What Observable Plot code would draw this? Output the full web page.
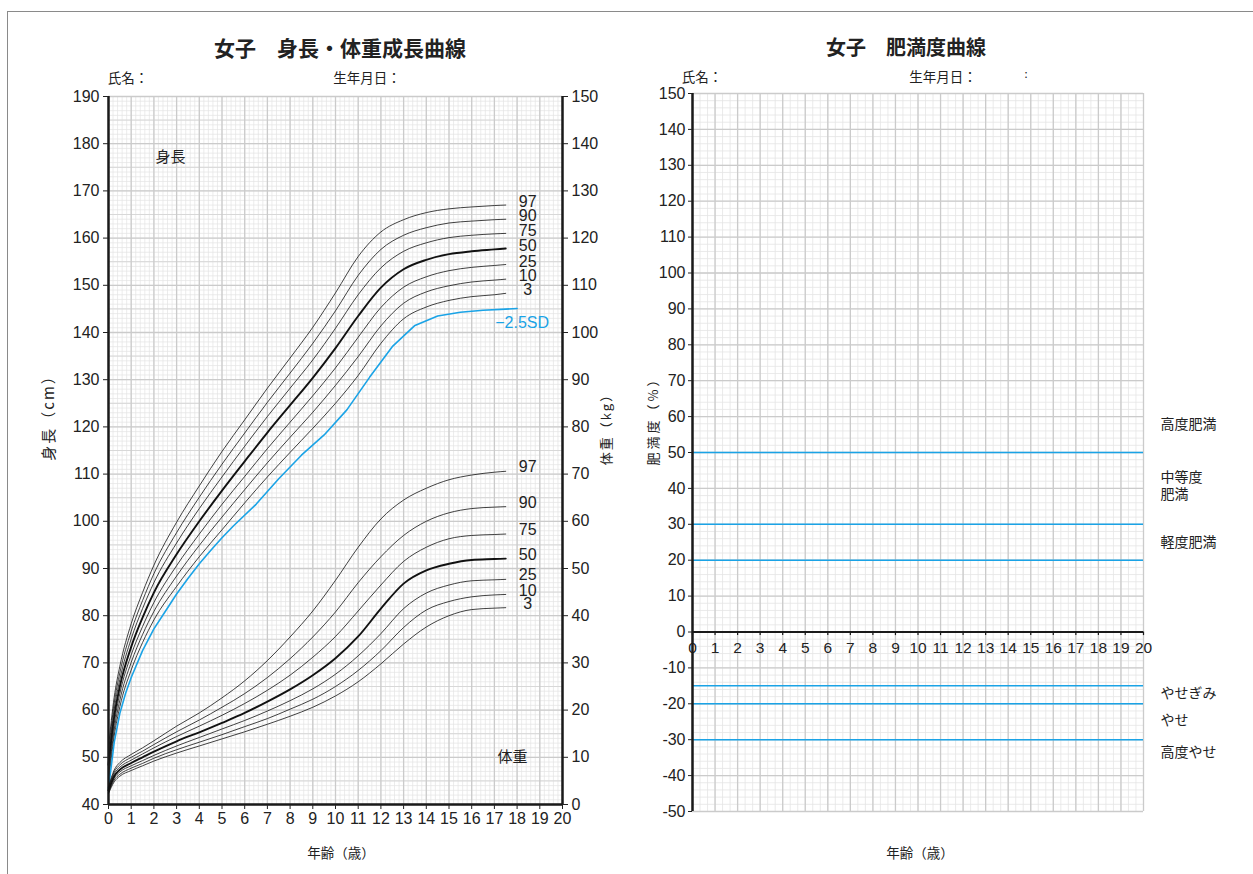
<!DOCTYPE html>
<html><head><meta charset="utf-8">
<script src="https://cdn.jsdelivr.net/npm/d3@7"></script>
<script src="https://cdn.jsdelivr.net/npm/@observablehq/plot@0.6"></script>
<style>
body{margin:0;background:#fff;}
#page{position:relative;width:1253px;height:874px;overflow:hidden;background:#fff;font-family:"Noto Sans CJK JP",sans-serif;color:#222}
#page svg{position:absolute;top:0;}
.t{position:absolute;white-space:nowrap;line-height:1;transform:translate(-50%,-50%);}
.frame{position:absolute;left:7px;top:11px;width:1400px;height:1000px;border-left:1px solid #8a8a8a;border-top:1.5px solid #8a8a8a;background:transparent;z-index:5;pointer-events:none;}
</style></head><body><div id="page"></div>
<script>
// ---------- data ----------
const ages = [0,0.25,0.5,1,1.5,2,3,4,5,6,7,8,9,10,11,12,13,14,15,16,17,17.5];
const percentiles = ["97","90","75","50","25","10","3"];

const height97 = [52.2,62.7,69.3,78.3,84.9,90.7,99.8,107.5,114.8,121.5,128.2,134.6,141.1,148.4,156.1,161.3,163.9,165.4,166.2,166.6,166.9,167.0];
const height90 = [51.0,61.4,67.9,76.7,83.2,88.9,97.6,105.1,112.1,118.7,125.2,131.4,137.7,144.6,152.1,157.6,160.6,162.2,163.2,163.6,163.9,164.0];
const height75 = [49.7,60.1,66.5,75.1,81.5,87.0,95.4,102.7,109.4,115.9,122.2,128.2,134.2,140.9,148.0,153.7,157.2,159.0,160.1,160.6,160.9,161.0];
const height50 = [48.4,58.6,65.0,73.4,79.6,84.9,93.0,100.0,106.5,112.7,118.8,124.6,130.4,136.7,143.5,149.5,153.4,155.4,156.6,157.2,157.6,157.8];
const height25 = [47.1,57.1,63.5,71.7,77.7,82.8,90.6,97.3,103.6,109.5,115.4,121.0,126.6,132.5,139.0,145.3,149.6,151.8,153.1,153.8,154.2,154.4];
const height10 = [45.8,55.8,62.1,70.1,76.0,80.9,88.4,94.9,100.9,106.7,112.4,117.8,123.1,128.8,134.9,141.4,146.2,148.6,149.9,150.7,151.1,151.3];
const height3  = [44.6,54.5,60.7,68.5,74.3,79.1,86.2,92.5,98.2,103.9,109.4,114.6,119.7,125.0,130.9,137.7,142.9,145.4,146.8,147.6,148.0,148.3];

const sdAges   = [0,0.25,0.5,0.75,1,1.5,2,2.5,3,3.5,4,4.5,5,5.5,6.5,7.5,8.5,9.5,10.5,11.5,12.5,13.5,14.5,15.5,16.5,17.5,18];
const heightMinus25SD = [43.4,53.1,59.3,63.5,66.9,72.6,77.2,80.9,84.6,87.9,91.0,93.8,96.5,99.0,103.6,109.0,114.0,118.3,123.6,130.5,137.0,141.5,143.5,144.3,144.7,144.95,145.1];

const weight97 = [3.7,7.3,8.9,10.6,12.0,13.5,16.6,19.4,22.6,26.2,30.5,35.5,41.0,47.5,54.5,60.5,64.5,67.0,68.8,69.8,70.4,70.6];
const weight90 = [3.5,6.9,8.4,10.0,11.3,12.7,15.4,17.9,20.6,23.5,26.9,30.9,35.5,40.8,47.0,52.5,57.0,60.0,61.8,62.7,63.0,63.1];
const weight75 = [3.2,6.5,7.9,9.4,10.7,12.0,14.4,16.6,18.9,21.4,24.2,27.4,31.2,35.6,41.0,46.5,51.5,54.5,56.3,57.0,57.2,57.3];
const weight50 = [3.0,6.0,7.4,8.8,10.0,11.2,13.4,15.3,17.3,19.4,21.8,24.4,27.4,31.0,35.6,41.5,46.8,49.6,51.0,51.8,52.0,52.1];
const weight25 = [2.7,5.6,6.9,8.2,9.3,10.4,12.4,14.2,16.0,17.8,19.8,22.0,24.5,27.6,31.5,36.2,41.5,44.8,46.5,47.4,47.6,47.7];
const weight10 = [2.5,5.2,6.4,7.7,8.7,9.8,11.6,13.2,14.8,16.5,18.2,20.2,22.3,25.0,28.4,32.6,37.5,41.2,43.0,44.0,44.4,44.5];
const weight3  = [2.3,4.8,6.0,7.2,8.2,9.2,10.9,12.4,13.9,15.4,17.0,18.7,20.6,23.0,26.0,29.8,34.0,37.6,40.0,41.3,41.6,41.7];

const heightTicks = d3.range(40, 191, 10);
const weightTicks = d3.range(0, 151, 10);
const ageTicks = d3.range(0, 21, 1);
const obesityTicks = d3.range(-50, 151, 10);
const obesityLines = [50, 30, 20, -15, -20, -30];
const obesityLabels = ["高度肥満", "中等度\n肥満", "軽度肥満", "やせぎみ", "やせ", "高度やせ"];
const obesityLabelY = [58, 41, 25.3, -17, -24.5, -33.4];

// ---------- tables ----------
const heightSeries = {"97":height97,"90":height90,"75":height75,"50":height50,"25":height25,"10":height10,"3":height3};
const weightSeries = {"97":weight97,"90":weight90,"75":weight75,"50":weight50,"25":weight25,"10":weight10,"3":weight3};
const toRows = s => percentiles.flatMap(p => ages.map((a, i) => ({age: a, value: s[p][i], p})));
const heightRows = toRows(heightSeries);
const weightRows = toRows(weightSeries);
const lastAge = ages[ages.length - 1];
const sdRows = sdAges.map((a, i) => ({age: a, value: heightMinus25SD[i]}));
const obesityLabelRows = obesityLabels.map((t, i) => ({t, y: obesityLabelY[i]}));

const numFont = "'Liberation Sans', Arial, Helvetica, sans-serif";
const jpFont = "'Noto Sans CJK JP', sans-serif";
const BLUE = "#1aa3e6";
const gMinor = "#e4e4e4", gMid = "#d8d8d8", gMajor = "#cbcbcb";

// ---------- left chart: height ----------
const leftDims = {width: 620, height: 874, marginLeft: 108, marginRight: 58, marginTop: 96, marginBottom: 70};
const heightPlot = Plot.plot({
  ...leftDims,
  x: {domain: [0, 20], ticks: ageTicks, tickSize: 5, tickPadding: 3, label: null},
  y: {domain: [40, 190], ticks: heightTicks, tickSize: 5, tickPadding: 4, label: null},
  style: {fontSize: "16px", fontFamily: numFont, color: "#222", background: "white", overflow: "visible"},
  marks: [
    Plot.ruleX(d3.range(0, 20.001, 0.2), {stroke: gMinor, strokeWidth: 0.7}),
    Plot.ruleY(d3.range(40, 190.001, 1), {stroke: gMinor, strokeWidth: 0.7}),
    Plot.ruleY(d3.range(45, 190, 10), {stroke: gMid, strokeWidth: 1}),
    Plot.ruleX(ageTicks, {stroke: gMajor, strokeWidth: 1.3}),
    Plot.ruleY(heightTicks, {stroke: gMajor, strokeWidth: 1.3}),
    Plot.line(heightRows.filter(d => d.p !== "50"), {x: "age", y: "value", z: "p", stroke: "#111", strokeWidth: 0.8, curve: "monotone-x"}),
    Plot.line(heightRows.filter(d => d.p === "50"), {x: "age", y: "value", stroke: "#111", strokeWidth: 1.9, curve: "monotone-x"}),
    Plot.line(sdRows, {x: "age", y: "value", stroke: BLUE, strokeWidth: 1.6}),
    Plot.text(heightRows.filter(d => d.age === lastAge), {x: "age", y: "value", text: "p", dx: 22, dy: -3, textAnchor: "middle", fontSize: 16, fill: "#222"}),
    Plot.text(sdRows.slice(-1), {x: "age", y: "value", text: () => "−2.5SD", dx: 5, dy: 14, textAnchor: "middle", fontSize: 16, fill: BLUE}),
    Plot.text(["身長"], {x: 2.73, y: 177.1, text: d => d, fontSize: 15, fontFamily: jpFont, fill: "#222"}),
    Plot.ruleY([40], {stroke: "#1a1a1a", strokeWidth: 2.5}),
    Plot.ruleX([0], {stroke: "#1a1a1a", strokeWidth: 2.5})
  ]
});
heightPlot.style.left = "0px";

// ---------- left chart: weight overlay ----------
const weightPlot = Plot.plot({
  ...leftDims,
  x: {domain: [0, 20], axis: null},
  y: {domain: [0, 150], axis: "right", ticks: weightTicks, tickSize: 5, tickPadding: 4, label: null},
  style: {fontSize: "16px", fontFamily: numFont, color: "#222", background: "transparent", overflow: "visible"},
  marks: [
    Plot.line(weightRows.filter(d => d.p !== "50"), {x: "age", y: "value", z: "p", stroke: "#111", strokeWidth: 0.8, curve: "monotone-x"}),
    Plot.line(weightRows.filter(d => d.p === "50"), {x: "age", y: "value", stroke: "#111", strokeWidth: 1.9, curve: "monotone-x"}),
    Plot.text(weightRows.filter(d => d.age === lastAge), {x: "age", y: "value", text: "p", dx: 22, dy: -4, textAnchor: "middle", fontSize: 16, fill: "#222"}),
    Plot.text(["体重"], {x: 17.8, y: 10, text: d => d, fontSize: 15, fontFamily: jpFont, fill: "#222"}),
    Plot.ruleX([20], {stroke: "#1a1a1a", strokeWidth: 2.5})
  ]
});
weightPlot.style.left = "0px";

// ---------- right chart: obesity ----------
const obesityPlot = Plot.plot({
  width: 633, height: 874, marginLeft: 72, marginRight: 110, marginTop: 93, marginBottom: 63,
  x: {domain: [0, 20], axis: null},
  y: {domain: [-50, 150], ticks: obesityTicks, tickSize: 4, tickPadding: 3, label: null, tickFormat: d => String(d)},
  style: {fontSize: "16px", fontFamily: numFont, color: "#222", background: "transparent", overflow: "visible"},
  marks: [
    Plot.ruleX(d3.range(0, 20.001, 1 / 3), {stroke: gMinor, strokeWidth: 0.8}),
    Plot.ruleY(d3.range(-50, 150.001, 2), {stroke: gMinor, strokeWidth: 0.8}),
    Plot.ruleX(ageTicks, {stroke: gMajor, strokeWidth: 1.3}),
    Plot.ruleY(obesityTicks, {stroke: gMajor, strokeWidth: 1.3}),
    Plot.ruleY(obesityLines, {x1: 0, x2: 20, stroke: BLUE, strokeWidth: 1.5}),
    Plot.ruleY([0], {x1: 0, x2: 20, stroke: "#1a1a1a", strokeWidth: 2}),
    Plot.ruleX(ageTicks, {y1: 0, y2: -1, stroke: "#1a1a1a", strokeWidth: 1.2}),
    Plot.text(ageTicks, {x: d => d, y: 0, text: d => String(d), dy: 16, fontSize: 15.5, fill: "#222"}),
    Plot.text(obesityLabelRows, {x: 20, y: "y", text: "t", dx: 17, textAnchor: "start", fontSize: 14, lineHeight: 1.2, fontFamily: jpFont, fill: "#222"}),
    Plot.ruleX([0], {stroke: "#1a1a1a", strokeWidth: 2.5})
  ]
});
obesityPlot.style.left = "620px";

const page = document.getElementById("page");
page.append(heightPlot, weightPlot, obesityPlot);
const frame = document.createElement("div");
frame.className = "frame";
page.appendChild(frame);

// ---------- titles and labels ----------
function label(text, x, y, size, extra = "") {
  const d = document.createElement("div");
  d.className = "t";
  d.textContent = text;
  d.style.cssText = `left:${x}px;top:${y}px;font-size:${size}px;${extra}`;
  page.appendChild(d);
}
label("女子　身長・体重成長曲線", 340, 47, 21, "font-weight:bold;");
label("氏名：", 128, 78, 13.5);
label("生年月日：", 367, 78, 13.5);
label("身長（cm）", 47, 414, 15, "letter-spacing:2px;transform:translate(-50%,-50%) rotate(-90deg);");
label("体重（kg）", 605, 426, 13, "letter-spacing:2px;transform:translate(-50%,-50%) rotate(-90deg);");
label("年齢（歳）", 341, 853, 13.5);

label("女子　肥満度曲線", 906, 47, 20, "font-weight:bold;");
label("氏名：", 702, 77, 13.5);
label("生年月日：", 943, 77, 13.5);
label(":", 1026, 73, 11);
label("肥満度（%）", 652, 418, 13, "letter-spacing:3px;transform:translate(-50%,-50%) rotate(-90deg);");
label("年齢（歳）", 920, 853, 13.5);
</script></body></html>
